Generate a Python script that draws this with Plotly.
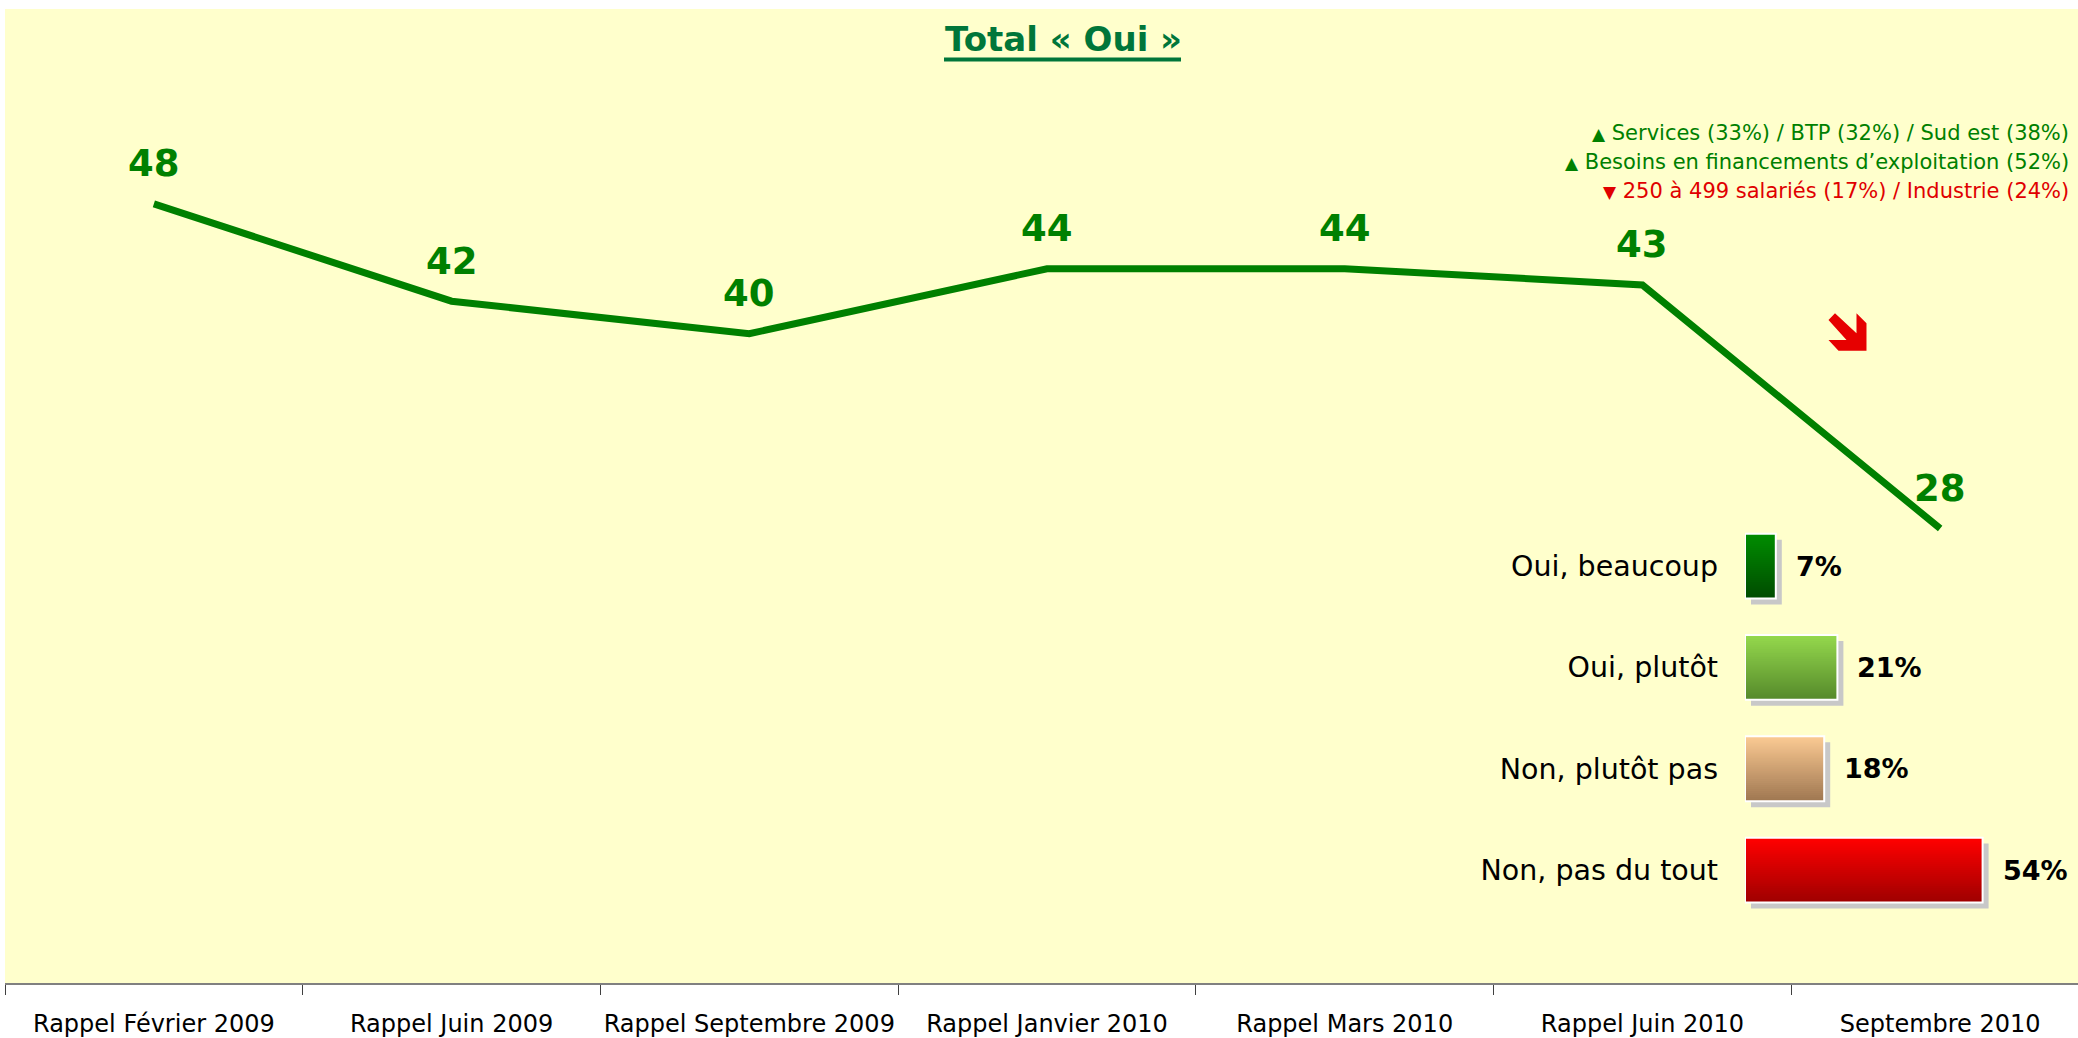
import plotly.graph_objects as go

# ---------------- data ----------------
periods = ["Rappel Février 2009", "Rappel Juin 2009", "Rappel Septembre 2009",
           "Rappel Janvier 2010", "Rappel Mars 2010", "Rappel Juin 2010",
           "Septembre 2010"]
total_oui = [48, 42, 40, 44, 44, 43, 28]

answers = ["Oui, beaucoup", "Oui, plutôt", "Non, plutôt pas", "Non, pas du tout"]
answer_pct = [7, 21, 18, 54]

answer_top_colors = ["#008C00", "#94D84C", "#FAC992", "#FF0000"]
answer_bottom_colors = ["#004C00", "#568A2C", "#A07852", "#A00000"]

notes = ["Services (33%) / BTP (32%) / Sud est (38%)",
         "Besoins en financements d’exploitation (52%)",
         "250 à 499 salariés (17%) / Industrie (24%)"]
note_up = [True, True, False]

title_text = "Total « Oui »"

# ---------------- geometry ----------------
W, H = 2078, 1038
ML, MR, MT, MB = 5, 0, 9, 55
PW, PH = W - ML - MR, H - MT - MB
FONT = "DejaVu Sans"
GREEN = "#008000"


def px(x):
    return (x - ML) / PW


def py(y):
    return (H - MB - y) / PH


def hex2rgb(h):
    h = h.lstrip("#")
    return [int(h[i:i + 2], 16) for i in (0, 2, 4)]


def mix(c1, c2, t):
    a, b = hex2rgb(c1), hex2rgb(c2)
    return "rgb(%d,%d,%d)" % tuple(round(a[k] + (b[k] - a[k]) * t) for k in range(3))


fig = go.Figure()

# main line
fig.add_trace(go.Scatter(x=periods, y=total_oui, mode="lines",
                         line=dict(color=GREEN, width=7), hoverinfo="skip",
                         xaxis="x", yaxis="y"))

# ---------------- horizontal bars (inset) ----------------
bar_y = [len(answers) - 1 - i for i in range(len(answers))]
bw = 0.64
px_per_pct = 4.4
px_per_unit = 101.5
sdx = 6 / px_per_pct
sdy = 6 / px_per_unit

# shadow
fig.add_trace(go.Bar(x=answer_pct, y=bar_y, orientation="h", base=sdx,
                     width=bw, offset=-bw / 2 - sdy,
                     marker=dict(color="#C8C8C8", line=dict(width=0)),
                     xaxis="x2", yaxis="y2", hoverinfo="skip"))
# vertical gradient: each layer covers from its top edge down to the bar bottom
N = 32
for j in range(N):
    t = j / (N - 1)
    cols = [mix(answer_top_colors[i], answer_bottom_colors[i], t) for i in range(len(answers))]
    fig.add_trace(go.Bar(x=answer_pct, y=bar_y, orientation="h",
                         width=bw * (N - j) / N, offset=-bw / 2,
                         marker=dict(color=cols, line=dict(width=0)),
                         xaxis="x2", yaxis="y2", hoverinfo="skip"))
# outline
fig.add_trace(go.Bar(x=answer_pct, y=bar_y, orientation="h",
                     width=bw, offset=-bw / 2,
                     marker=dict(color="rgba(0,0,0,0)", line=dict(color="white", width=2)),
                     xaxis="x2", yaxis="y2", hoverinfo="skip"))

annotations = []
# value labels on line
for p, v in zip(periods, total_oui):
    annotations.append(dict(x=p, y=v, xref="x", yref="y", text="<b>%d</b>" % v,
                            showarrow=False, yshift=40, yanchor="middle",
                            font=dict(family=FONT, size=37, color=GREEN)))
# percent labels
for yv, v in zip(bar_y, answer_pct):
    annotations.append(dict(x=v, y=yv, xref="x2", yref="y2", text="<b>%d%%</b>" % v,
                            showarrow=False, xanchor="left", xshift=18, yanchor="middle",
                            font=dict(family=FONT, size=27, color="black")))
# title
annotations.append(dict(x=px(1063), y=py(39), xref="paper", yref="paper",
                        text="<b>%s</b>" % title_text, showarrow=False,
                        xanchor="center", yanchor="middle",
                        font=dict(family=FONT, size=34, color="#00763A")))
# notes
note_y = [133, 161.7, 190.7]
for txt, up, yy in zip(notes, note_up, note_y):
    col = GREEN if up else "#E00000"
    tri = "▲" if up else "▼"
    annotations.append(dict(x=px(2071), y=py(yy), xref="paper", yref="paper",
                            text="<span style='font-size:17px'>%s</span> %s" % (tri, txt),
                            showarrow=False, xanchor="right", yanchor="middle",
                            font=dict(family=FONT, size=21, color=col)))

# decorative shapes: background, title underline and red arrow
arrow_px = [(1835, 313.3), (1856.5, 333.3), (1856.5, 313.3), (1866.5, 323.3),
            (1866.5, 350.7), (1838.5, 350.7), (1828.5, 340), (1846.5, 340),
            (1828.5, 320)]
path = "M " + " L ".join("%.5f,%.5f" % (px(a), py(b)) for a, b in arrow_px) + " Z"
shapes = [
    dict(type="rect", xref="paper", yref="paper", x0=0, x1=1, y0=0, y1=1,
         fillcolor="#FFFFCC", line=dict(width=0), layer="below"),
    dict(type="line", xref="paper", yref="paper", x0=px(944), x1=px(1181),
         y0=py(59.5), y1=py(59.5), line=dict(color="#00763A", width=4)),
    dict(type="path", xref="paper", yref="paper", path=path,
         fillcolor="#E60000", line=dict(width=0)),
]

fig.update_layout(
    width=W, height=H,
    margin=dict(l=ML, r=MR, t=MT, b=MB, autoexpand=False),
    paper_bgcolor="white", plot_bgcolor="rgba(0,0,0,0)",
    showlegend=False, barmode="overlay",
    font=dict(family=FONT, color="black"),
    xaxis=dict(type="category", range=[-0.5, 6.463], tickson="boundaries",
               ticks="outside", ticklen=10, tickwidth=1, tickcolor="#404040",
               showline=True, linecolor="#808080", linewidth=2,
               showgrid=False, zeroline=False, fixedrange=True,
               tickangle=0, automargin=False, ticklabelstandoff=18,
               tickfont=dict(family=FONT, size=24, color="black")),
    yaxis=dict(range=[0, 60], visible=False, fixedrange=True),
    xaxis2=dict(domain=[px(1745), px(1745 + 60 * px_per_pct)], range=[0, 60],
                anchor="y2", visible=False, fixedrange=True),
    yaxis2=dict(domain=[0, py(515.5)], range=[-1.115, 3.5], anchor="x2",
                tickvals=bar_y, ticktext=answers, ticks="", showgrid=False,
                zeroline=False, showline=False, ticklabelstandoff=26,
                automargin=False,
                tickfont=dict(family=FONT, size=28.5, color="black"), fixedrange=True),
    annotations=annotations, shapes=shapes,
)

fig.write_html("out.html")
